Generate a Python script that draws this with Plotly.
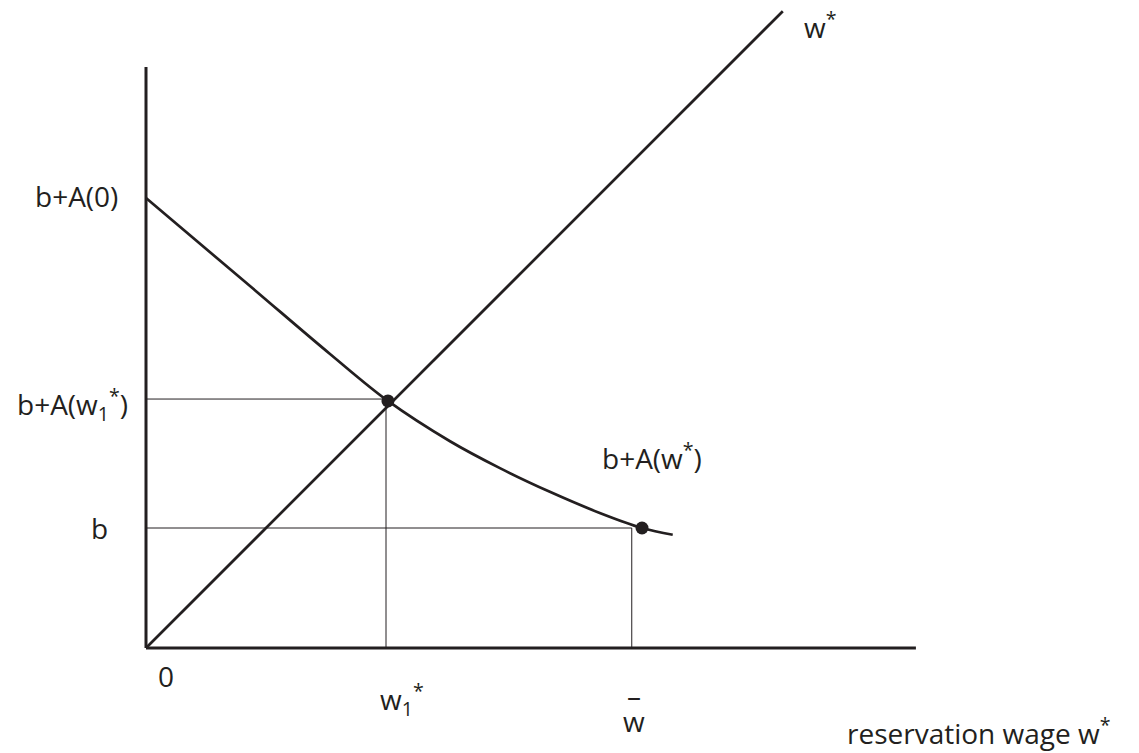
import plotly.graph_objects as go

# Data (in chart units; origin at axes corner)
axis_x_end = 12.03
axis_y_end = 9.08
wline_x = [0, 9.95]
wline_y = [0, 9.95]
curve_x = [0.0, 1.625, 2.875, 3.78, 4.75, 5.53, 6.31, 7.09, 7.75, 8.23]
curve_y = [7.03, 5.656, 4.594, 3.86, 3.23, 2.81, 2.44, 2.11, 1.875, 1.77]
w1_star = 3.75
bA_w1 = 3.89
w_bar = 7.59
b_val = 1.875
dot_x = [3.78, 7.75]
dot_y = [3.86, 1.875]

INK = "#231f20"
FONT = "Open Sans"
FS = 28

fig = go.Figure()

# axes
fig.add_trace(go.Scatter(x=[0, 0], y=[0, axis_y_end], mode="lines",
                         line=dict(color=INK, width=3), hoverinfo="skip"))
fig.add_trace(go.Scatter(x=[0, axis_x_end], y=[0, 0], mode="lines",
                         line=dict(color=INK, width=3), hoverinfo="skip"))
# guide lines
fig.add_trace(go.Scatter(x=[0, w1_star, w1_star], y=[bA_w1, bA_w1, 0], mode="lines",
                         line=dict(color=INK, width=1), hoverinfo="skip"))
fig.add_trace(go.Scatter(x=[0, w_bar, w_bar], y=[b_val, b_val, 0], mode="lines",
                         line=dict(color=INK, width=1), hoverinfo="skip"))
# 45 degree line
fig.add_trace(go.Scatter(x=wline_x, y=wline_y, mode="lines",
                         line=dict(color=INK, width=2.7), hoverinfo="skip"))
# b + A(w*) curve
fig.add_trace(go.Scatter(x=curve_x, y=curve_y, mode="lines",
                         line=dict(color=INK, width=2.7, shape="spline", smoothing=1.0),
                         hoverinfo="skip"))
# dots
fig.add_trace(go.Scatter(x=dot_x, y=dot_y, mode="markers",
                         marker=dict(color=INK, size=13), hoverinfo="skip"))

def ann(text, x, y, xanchor="left", yanchor="middle"):
    fig.add_annotation(x=x, y=y, text=text, showarrow=False, xref="x", yref="y",
                       xanchor=xanchor, yanchor=yanchor,
                       font=dict(family=FONT, size=FS, color=INK))

ann("b+A(0)", -0.406, 7.06, "right")
ann("b+A(w<sub>1</sub><sup>*</sup>)", -0.25, 3.8, "right")
ann("b", -0.72, 1.875, "center")
ann("0", 0.31, -0.44, "center")
ann("w<sub>1</sub><sup>*</sup>", 3.625, -0.80, "left")
ann("w", 7.625, -1.14, "center")
ann("\u2013", 7.625, -0.74, "center")
ann("reservation wage w<sup>*</sup>", 10.92, -1.30, "left")
ann("b+A(w<sup>*</sup>)", 7.1, 3.0, "left")
ann("w<sup>*</sup>", 10.25, 9.72, "left")

fig.update_layout(
    width=1139, height=753,
    margin=dict(l=0, r=0, t=0, b=0),
    paper_bgcolor="white", plot_bgcolor="white",
    showlegend=False,
    xaxis=dict(range=[-146/64, 993/64], visible=False, fixedrange=True),
    yaxis=dict(range=[-105/64, 648/64], visible=False, fixedrange=True),
)

fig.write_html("out.html", config={"displayModeBar": False},
               post_script="document.body.style.margin='0';document.body.style.overflow='hidden';")
